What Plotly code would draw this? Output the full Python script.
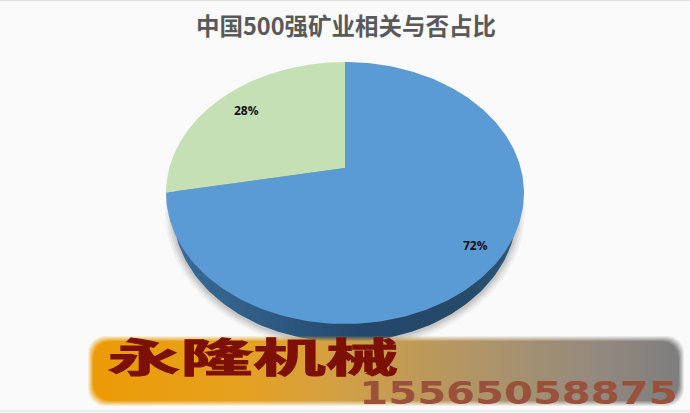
import numpy as np
import plotly.graph_objects as go

W, H = 690, 413
title = "中国500强矿业相关与否占比"
categories = ["相关", "不相关"]
values = [72, 28]
labels = ["72%", "28%"]
colors = ["#5B9BD5", "#C5E0B4"]
brand = "永隆机械"
phone = "15565058875"

# geometry of the tilted disc (perspective: its apex sits above the ellipse centre)
CX, CY, RX, RY, APEX = 345, 193, 179, 131, 25
TILT = APEX / RY

def face_arc(a0, a1, n=240):
    t = np.linspace(a0, a1, n)
    w = 1 + TILT * np.cos(t)
    x = CX + RX * np.sqrt(1 - TILT ** 2) * np.sin(t) / w
    y = CY - (RY * np.cos(t) + APEX) / w
    return x, y

def ellipse(cx, cy, rx, ry, n=240):
    t = np.linspace(0, 2 * np.pi, n)
    return cx + rx * np.sin(t), cy - ry * np.cos(t)

def rounded(x0, y0, x1, y1, r):
    xs, ys = [], []
    for cx, cy, a in [(x1 - r, y0 + r, 0), (x1 - r, y1 - r, np.pi / 2),
                      (x0 + r, y1 - r, np.pi), (x0 + r, y0 + r, 3 * np.pi / 2)]:
        t = np.linspace(a, a + np.pi / 2, 12)
        xs += list(cx + r * np.sin(t))
        ys += list(cy - r * np.cos(t))
    return xs + xs[:1], ys + ys[:1]

fig = go.Figure()

def add_poly(x, y, color=None, grad=None, opacity=1):
    kw = dict(x=list(x), y=list(y), mode="lines", line=dict(width=0), fill="toself",
              hoverinfo="skip", showlegend=False, opacity=opacity)
    if grad is not None:
        kw["fillgradient"] = dict(type="horizontal", colorscale=grad)
    else:
        kw["fillcolor"] = color
    fig.add_trace(go.Scatter(**kw))

# soft shadow beneath the pie
for grow, alpha in [(8, 0.05), (6, 0.07), (4, 0.09), (2, 0.12)]:
    xs, ys = ellipse(CX, CY + 19, 172 + grow, RY + grow)
    add_poly(xs, ys, f"rgba(80,80,80,{alpha})")

# side wall of the pie
xs, ys = ellipse(CX, CY + 18, 172, RY)
add_poly(xs, ys, grad=[[0, "#3a6b96"], [0.25, "#2f5d85"], [0.55, "#24476a"], [0.85, "#264a68"], [1, "#2f587c"]])

# pie faces, angles from the values
total = sum(values)
start = 0.0
apex_x, apex_y = CX, CY - APEX
for v, c in zip(values, colors):
    end = start + 2 * np.pi * v / total
    xs, ys = face_arc(start, end)
    add_poly([apex_x] + list(xs) + [apex_x], [apex_y] + list(ys) + [apex_y], c)
    start = end

# banner with blurred edge
bx0, by0, bx1, by1 = 88, 336, 684, 406
grad = [[0, "#ec9b05"], [0.25, "#e6a11f"], [0.42, "#d2a044"], [0.65, "#b09566"], [0.85, "#958a7e"], [1, "#7e7e7e"]]
for inset, op in [(0, 0.15), (1, 0.2), (2, 0.25), (3, 0.35), (4, 0.5), (5, 1)]:
    x, y = rounded(bx0 + inset, by0 + inset, bx1 - inset, by1 - inset, 17)
    add_poly(x, y, grad=grad, opacity=op)

def note(text, x, y, size, color, family="Noto Sans CJK SC", bold=False):
    fig.add_annotation(x=x, y=y, xref="x", yref="y", text=f"<b>{text}</b>" if bold else text,
                       showarrow=False, font=dict(size=size, color=color, family=family),
                       xanchor="center", yanchor="middle")

note(title, 346, 25, 23.5, "#595959", bold=True)
note(labels[1], 246, 110, 12, "#111111", "Open Sans", True)
note(labels[0], 475, 245, 12, "#111111", "Open Sans", True)
note(brand, 253, 355, 40, "#7d1005", bold=True)
note(phone, 518, 393, 32, "#99513c", "DejaVu Sans", True)

fig.update_layout(
    width=W, height=H, margin=dict(l=0, r=0, t=0, b=0),
    paper_bgcolor="#fafafa", plot_bgcolor="#fafafa",
    xaxis=dict(range=[0, W], visible=False, fixedrange=True),
    yaxis=dict(range=[H, 0], visible=False, fixedrange=True),
    shapes=[dict(type="line", xref="x", yref="y", x0=0, x1=W, y0=0.5, y1=0.5,
                 line=dict(color="#dcdcdc", width=1)),
            dict(type="line", xref="x", yref="y", x0=0, x1=W, y0=411, y1=411,
                 line=dict(color="#e2e2e2", width=1))],
)

stretch = """
document.documentElement.style.overflow = 'hidden';
document.body.style.margin = '0';
document.querySelectorAll('.annotation').forEach(function(g){
  var s = g.textContent, k = s === '永隆机械' ? 1.82 : (s === '15565058875' ? 1.3 : 0);
  if(!k) return;
  var t = g.querySelector('text');
  var b = t.getBBox(), c = b.x + b.width / 2;
  t.setAttribute('transform', 'translate(' + c + ' 0) scale(' + k + ' 1) translate(' + (-c) + ' 0)');
  if(k > 1.5){ t.style.stroke = '#7d1005'; t.style.strokeWidth = '1px'; }
});
"""
fig.write_html("out.html", post_script=stretch, config={"displayModeBar": False})
